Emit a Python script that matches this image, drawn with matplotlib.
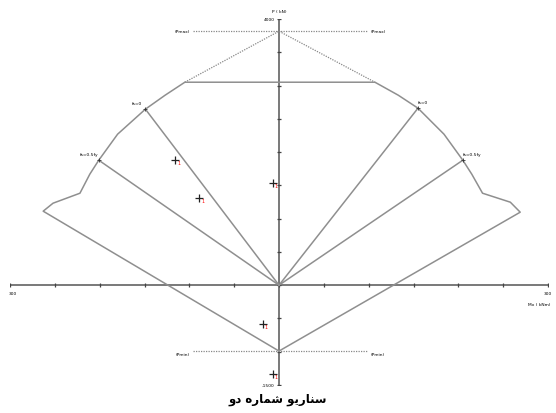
import matplotlib
matplotlib.use("Agg")
import matplotlib.pyplot as plt

# ---- data (Mx in kNm, P in kN) ----
# interaction curve, traced from the bottom (Pmin) round the left side to the right side
curve_mx = [0, -263, -252, -222, -211, -201, -180, -149, -127, -105,
            107, 133, 155, 184, 205, 215, 227, 258, 269, 0]
curve_p = [-990, 1112, 1232, 1382, 1668, 1878, 2269, 2645, 2855, 3050,
           3050, 2855, 2660, 2269, 1878, 1668, 1382, 1247, 1097, -990]

pmax = 3817
pmin = -990
pline_mx = [-96, 99]
cap_mx = [-105, 107]
cap_p = 3050

fs0_mx = [-149, 155]
fs0_p = [2645, 2660]
fs05_mx = [-201, 205]
fs05_p = [1878, 1878]

load_mx = [-116, -89, -7, -18, -7]
load_p = [1878, 1307, 1533, -586, -1337]
load_labels = ["1", "1", "1", "1", "1"]

x_ticks = list(range(-300, 301, 50))
y_ticks = list(range(-1500, 4001, 500))
xlim = (-300, 300)
ylim = (-1500, 4000)

# "سناریو شماره دو" written with Arabic presentation forms in visual order
title = "\uFEED\uFEA9 \uFEE9\uFEAD\uFE8E\uFEE4\uFEB7 \uFEEE\uFEF3\uFEAD\uFE8E\uFEE8\uFEB3"

# ---- figure ----
fig = plt.figure(figsize=(5.56, 4.14), dpi=100)
ax = fig.add_axes([10/556, 28/414, 538/556, 366/414])
ax.set_xlim(*xlim)
ax.set_ylim(*ylim)
ax.axis("off")

line_c = "#8f8f8f"
axis_c = "#6e6e6e"

# axes lines
ax.plot(xlim, [0, 0], color=axis_c, lw=1.3, zorder=2)
ax.plot([0, 0], ylim, color=axis_c, lw=1.3, zorder=2)
ax.plot(x_ticks, [0]*len(x_ticks), ls="none", marker="|", ms=3, mew=0.9, color="#444")
ax.plot([0]*len(y_ticks), y_ticks, ls="none", marker="_", ms=3, mew=0.9, color="#444")

# interaction curve
ax.plot(curve_mx, curve_p, color=line_c, lw=1.1, zorder=3)

# Pmax / Pmin dotted
dot = (0, (1, 1))
ax.plot(pline_mx, [pmax, pmax], color="#888", lw=0.9, ls=dot)
ax.plot(pline_mx, [pmin, pmin], color="#888", lw=0.9, ls=dot)
ax.plot([cap_mx[0], 0, cap_mx[1]], [cap_p, pmax, cap_p], color="#888", lw=0.9, ls=dot)

# radial lines
for mx, p in zip(fs0_mx + fs05_mx, fs0_p + fs05_p):
    ax.plot([0, mx], [0, p], color=line_c, lw=1.1, zorder=3)
    ax.plot([mx], [p], marker="+", ms=3, mew=0.6, color="#333", zorder=4)

fs = 3.2
ax.annotate("fs=0", (fs0_mx[0], fs0_p[0]), xytext=(-2, 3), textcoords="offset points",
            ha="right", va="bottom", fontsize=fs)
ax.annotate("fs=0", (fs0_mx[1], fs0_p[1]), xytext=(0, 3), textcoords="offset points",
            ha="left", va="bottom", fontsize=fs)
ax.annotate("fs=0.5fy", (fs05_mx[0], fs05_p[0]), xytext=(0, 3), textcoords="offset points",
            ha="right", va="bottom", fontsize=fs)
ax.annotate("fs=0.5fy", (fs05_mx[1], fs05_p[1]), xytext=(0, 3), textcoords="offset points",
            ha="left", va="bottom", fontsize=fs)

ax.annotate("(Pmax)", (pline_mx[0], pmax), xytext=(-2, 0), textcoords="offset points",
            ha="right", va="center", fontsize=fs)
ax.annotate("(Pmax)", (pline_mx[1], pmax), xytext=(2, 0), textcoords="offset points",
            ha="left", va="center", fontsize=fs)
ax.annotate("(Pmin)", (pline_mx[0], pmin), xytext=(-2, -2), textcoords="offset points",
            ha="right", va="center", fontsize=fs)
ax.annotate("(Pmin)", (pline_mx[1], pmin), xytext=(2, -2), textcoords="offset points",
            ha="left", va="center", fontsize=fs)

# load points
ax.plot(load_mx, load_p, ls="none", marker="+", ms=6, mew=0.9, color="#222", zorder=5)
for mx, p, lab in zip(load_mx, load_p, load_labels):
    ax.annotate(lab, (mx, p), xytext=(1.5, -1.5), textcoords="offset points",
                ha="left", va="center", fontsize=3.5, color="red", zorder=6)

# axis labels
ax.annotate("4000", (0, ylim[1]), xytext=(-3, 0), textcoords="offset points",
            ha="right", va="center", fontsize=fs)
ax.annotate("-1500", (0, ylim[0]), xytext=(-3, 0), textcoords="offset points",
            ha="right", va="center", fontsize=fs)
ax.annotate("P ( kN)", (0, ylim[1]), xytext=(0, 4), textcoords="offset points",
            ha="center", va="bottom", fontsize=fs)
ax.annotate("300", (xlim[0], 0), xytext=(2, -4), textcoords="offset points",
            ha="center", va="top", fontsize=fs)
ax.annotate("300", (xlim[1], 0), xytext=(0, -4), textcoords="offset points",
            ha="center", va="top", fontsize=fs)
ax.annotate("Mx ( kNm)", (xlim[1], 0), xytext=(-6, -12), textcoords="offset points",
            ha="center", va="top", fontsize=fs)

fig.text(0.5, 1 - 400/414, title, ha="center", va="center", fontsize=8.5,
         fontweight="bold", family=["DejaVu Sans"])

fig.savefig("out.png", dpi=100)
